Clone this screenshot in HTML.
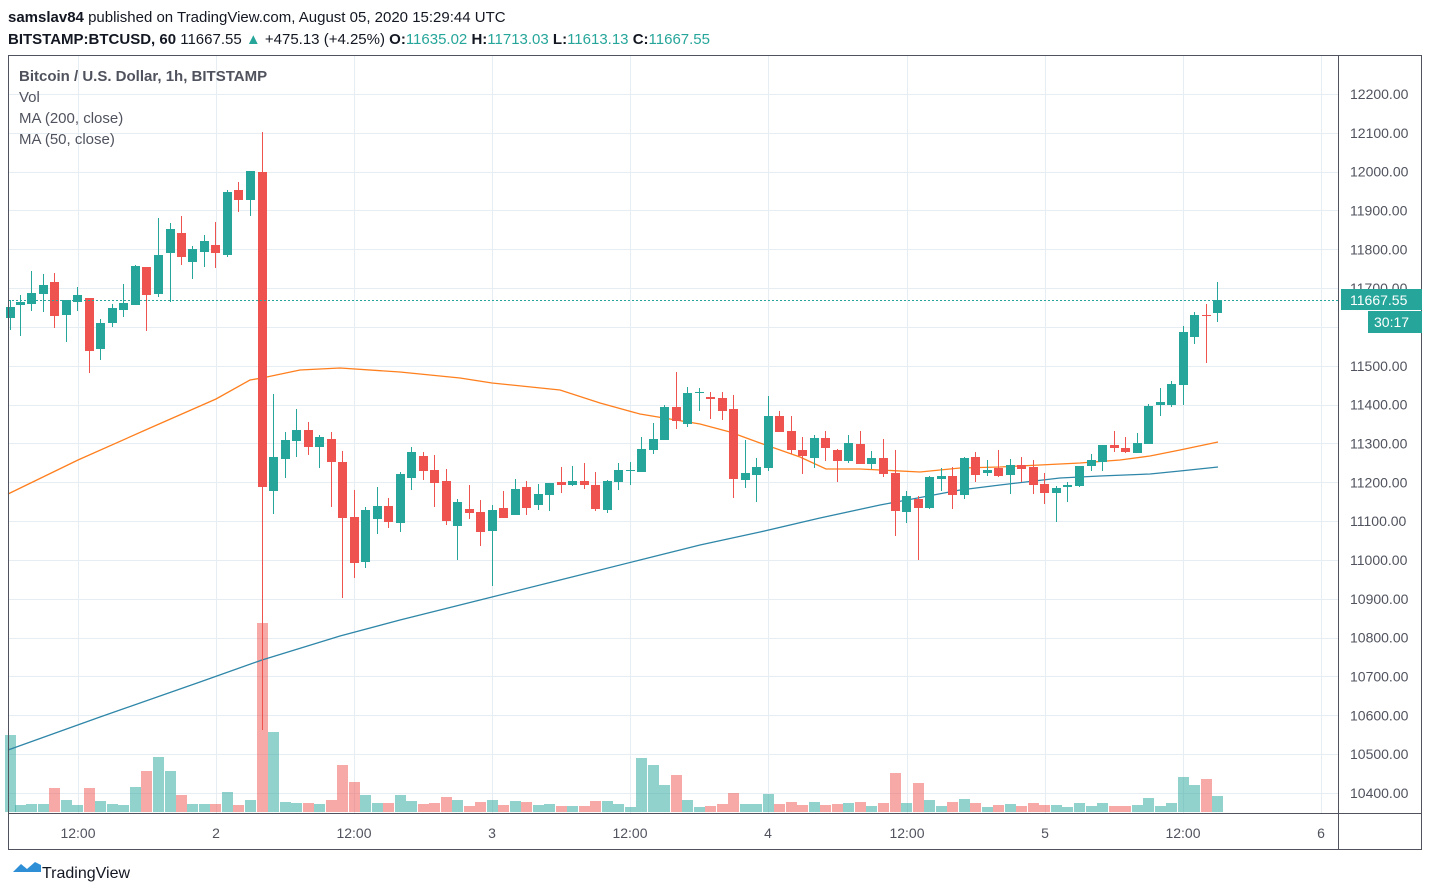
<!DOCTYPE html>
<html><head><meta charset="utf-8"><style>
body{margin:0;background:#fff;width:1430px;height:896px;overflow:hidden;font-family:"Liberation Sans",sans-serif}
svg{position:absolute;left:0;top:0}
</style></head><body>
<svg id="s" width="1430" height="896" viewBox="0 0 1430 896" xmlns="http://www.w3.org/2000/svg" font-family="Liberation Sans, sans-serif">
<g id="grid" stroke="#e6edf3" stroke-width="1"></g>
<g id="vol"></g>
<polyline id="ma50" fill="none" stroke="#ff7f1e" stroke-width="1.3"/>
<polyline id="ma200" fill="none" stroke="#2e86a8" stroke-width="1.3"/>
<g id="cdl"></g>
<line x1="8" y1="300.5" x2="1338" y2="300.5" stroke="#26a69a" stroke-dasharray="2,2"/>
<rect x="8.5" y="55.5" width="1413" height="794" fill="none" stroke="#50535e"/>
<line x1="1338.5" y1="55" x2="1338.5" y2="849" stroke="#50535e"/>
<line x1="8" y1="813.5" x2="1422" y2="813.5" stroke="#50535e"/>
<g id="pl" font-size="14" fill="#50535e"></g>
<g font-size="14" fill="#50535e" text-anchor="middle">
<text x="78" y="838">12:00</text><text x="216" y="838">2</text><text x="354" y="838">12:00</text><text x="492" y="838">3</text><text x="630" y="838">12:00</text><text x="768" y="838">4</text><text x="907" y="838">12:00</text><text x="1045" y="838">5</text><text x="1183" y="838">12:00</text><text x="1321" y="838">6</text>
</g>
<rect x="1341" y="289" width="81" height="21" fill="#26a69a"/>
<text x="1350" y="305" font-size="14" fill="#fff">11667.55</text>
<rect x="1368" y="311" width="54" height="22" fill="#26a69a"/>
<text x="1374" y="327" font-size="14" fill="#fff">30:17</text>
<text x="8" y="22" font-size="15" fill="#131722"><tspan font-weight="bold">samslav84</tspan> published on TradingView.com, August 05, 2020 15:29:44 UTC</text>
<text x="8" y="44" font-size="15" fill="#131722"><tspan font-weight="bold">BITSTAMP:BTCUSD, 60</tspan> 11667.55 <tspan fill="#26a69a">▲</tspan> +475.13 (+4.25%) <tspan font-weight="bold">O:</tspan><tspan fill="#26a69a">11635.02</tspan> <tspan font-weight="bold">H:</tspan><tspan fill="#26a69a">11713.03</tspan> <tspan font-weight="bold">L:</tspan><tspan fill="#26a69a">11613.13</tspan> <tspan font-weight="bold">C:</tspan><tspan fill="#26a69a">11667.55</tspan></text>
<g font-size="15" fill="#50535e">
<text x="19" y="81" font-weight="bold">Bitcoin / U.S. Dollar, 1h, BITSTAMP</text>
<text x="19" y="102">Vol</text>
<text x="19" y="123">MA (200, close)</text>
<text x="19" y="144">MA (50, close)</text>
</g>
<path d="M13 872 l8 -8 l6 5 l8 -7 l6 3 v7 z" fill="#2e8fd6"/>
<text x="42" y="878" font-size="16" fill="#131722">TradingView</text>
</svg>
<script>
const NS="http://www.w3.org/2000/svg";
function el(p,t,a){const e=document.createElementNS(NS,t);for(const k in a)e.setAttribute(k,a[k]);p.appendChild(e);return e;}
const g=document.getElementById('grid');
for(let i=0;i<19;i++){const y=Math.round(94+38.83*i)+.5;el(g,'line',{x1:8,x2:1338,y1:y,y2:y});}
[78,216,354,492,630,768,907,1045,1183,1321].forEach(x=>el(g,'line',{x1:x+.5,x2:x+.5,y1:55,y2:813}));
const pl=document.getElementById('pl');
for(let i=0;i<19;i++){const p=12200-100*i;if(p==11600)continue;const y=94+38.83*i+5;const t=el(pl,'text',{x:1350,y:y});t.textContent=p+'.00';}
const G='#26a69a',R='#ef5350';
const D=[
[10,G,307,318,300,330],[20,G,302,305,295,336],[31,G,293,304,271,311],[43,G,285,294,274,312],[54,R,282,316,273,328],[66,G,300,315,300,342],[77,G,295,302,287,311],[89,R,298,351,298,373],[100,G,323,349,319,360],[112,G,308,323,304,327],[123,G,303,310,284,317],[135,G,266,305,265,305],[146,R,267,295,267,331],[158,G,255,294,218,297],[170,G,229,253,223,302],[181,R,233,257,216,265],[192,G,249,262,246,279],[204,G,241,252,235,267],[215,R,245,253,222,268],[227,G,192,255,190,257],[238,R,190,200,182,212],[250,G,171,200,171,216],[262,R,172,487,132,730],[273,G,457,491,394,514],[285,G,440,459,432,478],[296,G,430,441,409,457],[308,R,430,447,422,455],[319,G,437,447,435,468],[331,R,439,462,432,507],[342,R,462,518,451,598],[354,R,517,563,490,578],[365,G,510,562,507,568],[377,G,506,519,487,534],[388,R,506,522,498,528],[400,G,474,523,472,532],[411,G,452,478,447,490],[423,R,456,471,452,480],[434,R,470,483,455,507],[446,R,481,521,469,525],[457,G,502,526,499,560],[469,R,509,513,485,519],[480,R,512,532,500,546],[492,G,510,531,505,586],[503,R,508,518,491,518],[515,G,489,515,479,515],[526,R,487,508,481,515],[538,G,494,505,484,510],[549,G,483,495,483,511],[561,R,482,485,467,493],[572,G,481,485,466,486],[584,R,481,485,463,489],[595,R,485,509,472,511],[607,G,481,510,480,513],[618,G,470,482,463,490],[630,G,470,471,462,485],[641,G,449,472,437,472],[653,G,439,450,423,454],[664,G,407,440,405,440],[676,R,407,421,372,429],[687,G,393,424,387,427],[699,G,392,393,388,411],[710,R,397,399,392,419],[722,R,398,411,392,420],[733,R,409,479,395,498],[745,G,473,480,440,488],[756,G,467,475,458,502],[768,G,416,468,396,471],[779,R,416,432,411,432],[791,R,431,450,416,454],[802,R,450,456,437,474],[814,G,438,458,435,468],[825,R,438,448,431,461],[837,R,450,461,449,482],[848,G,443,461,435,463],[860,R,444,464,431,464],[871,G,458,464,451,469],[883,R,458,474,439,477],[895,R,473,511,450,536],[906,G,496,512,491,523],[918,R,499,508,496,560],[929,G,477,508,476,509],[941,G,476,479,468,491],[952,R,476,495,467,509],[964,G,458,495,457,499],[975,R,457,475,452,482],[987,G,470,473,460,476],[998,R,468,476,450,477],[1010,G,465,475,459,494],[1021,R,465,469,457,482],[1033,R,467,485,460,494],[1044,R,484,493,473,504],[1056,G,488,493,486,522],[1067,G,485,487,482,502],[1079,G,466,486,466,487],[1091,G,460,466,454,471],[1102,G,445,462,445,471],[1114,R,445,448,431,452],[1125,R,448,452,437,453],[1137,G,443,453,433,453],[1148,G,406,444,404,444],[1160,G,402,405,388,416],[1171,G,384,405,381,407],[1183,G,332,385,326,405],[1194,G,315,337,312,344],[1206,R,315,316,304,363],[1217,G,300,313,282,322]];
const VO={10:735,262:623,273:732,158:757,170:771,146:771,342:765,641:758,653:765,676:775,895:773,918:783,1183:777,1206:779,1194:785,354:782,1217:796,664:785,733:793,135:787,181:795,66:800,54:788,89:788};
const c=document.getElementById('cdl'),v=document.getElementById('vol');
D.forEach(d=>{const[x,col,t,b,h,l]=d;
 el(c,'line',{x1:x+.5,x2:x+.5,y1:h,y2:l,stroke:col,'stroke-width':1});
 el(c,'rect',{x:x-4,y:t,width:9,height:Math.max(1,b-t),fill:col});
 let vt=VO[x]!==undefined?VO[x]:Math.round(812-Math.min(22,4+(b-t)*0.25+((l-h)-(b-t))*0.05));
 el(v,'rect',{x:x-5,y:vt,width:11,height:812-vt,fill:col,'fill-opacity':0.5});
});
document.getElementById('ma50').setAttribute('points',"8,494 78,460 150,428 216,399 250,380 262,378 300,370 340,368 400,372 460,378 492,383 560,390 600,403 640,414 700,424 730,432 760,443 800,457 826,469 860,469 880,470 920,472 960,468 1000,467 1040,465 1080,463 1120,460 1150,456 1180,450 1218,442");
document.getElementById('ma200').setAttribute('points',"8,750 100,717 200,682 262,660 340,636 400,620 492,597 560,580 640,560 700,545 760,532 820,518 880,505 907,500 960,490 1000,485 1060,478 1100,476 1150,474 1180,471 1218,467");
</script>
</body></html>
